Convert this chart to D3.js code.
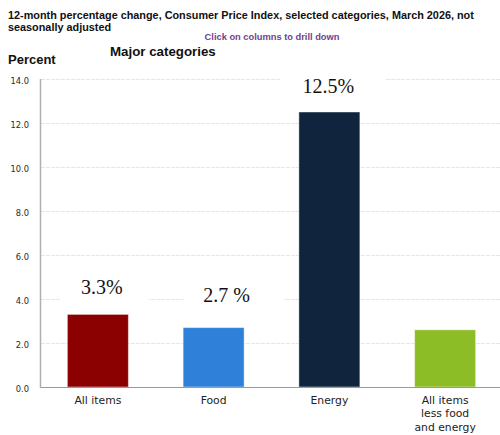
<!DOCTYPE html>
<html>
<head>
<meta charset="utf-8">
<script src="https://cdn.jsdelivr.net/npm/d3@7/dist/d3.min.js"></script>
<style>
  html, body { margin: 0; padding: 0; background: #fff; }
  svg { display: block; }
</style>
</head>
<body>
<div id="chart"></div>
<script>
// CPI 12-month percent change, major categories
const categories = ["All items", "Food", "Energy", "All items less food and energy"];
const categoryLines = [["All items"], ["Food"], ["Energy"], ["All items", "less food", "and energy"]];
const values = [3.3, 2.7, 12.5, 2.6];
const valueLabels = ["3.3%", "2.7 %", "12.5%", null];
const barColors = ["#8b0000", "#2f80d9", "#10253d", "#8cbc26"];
const yTicks = [0, 2, 4, 6, 8, 10, 12, 14];

const W = 500, H = 435;
const plotLeft = 41, plotRight = 500, plotTop = 79, plotBottom = 387;

const svg = d3.select("#chart").append("svg")
  .attr("width", W).attr("height", H);

const x = d3.scaleBand()
  .domain(categories)
  .range([40, 503])
  .paddingInner(0.473)
  .paddingOuter(0.2365);

const y = d3.scaleLinear().domain([0, 14]).range([plotBottom, plotTop]);

// Titles
const title = svg.append("text")
  .attr("font-family", "Liberation Sans, Arial, sans-serif")
  .attr("font-weight", "bold")
  .attr("font-size", 10.85)
  .attr("fill", "#111");
title.append("tspan").attr("x", 8).attr("y", 18.5)
  .text("12-month percentage change, Consumer Price Index, selected categories, March 2026, not");
title.append("tspan").attr("x", 8).attr("y", 30.5)
  .text("seasonally adjusted");

svg.append("text")
  .attr("x", 272).attr("y", 39.5)
  .attr("text-anchor", "middle")
  .attr("font-family", "Liberation Sans, Arial, sans-serif")
  .attr("font-weight", "bold")
  .attr("font-size", 9.3)
  .attr("fill", "#6e4290")
  .text("Click on columns to drill down");

svg.append("text")
  .attr("x", 110).attr("y", 55.5)
  .attr("font-family", "Liberation Sans, Arial, sans-serif")
  .attr("font-weight", "bold")
  .attr("font-size", 13.3)
  .attr("fill", "#111")
  .text("Major categories");

svg.append("text")
  .attr("x", 8).attr("y", 63.5)
  .attr("font-family", "Liberation Sans, Arial, sans-serif")
  .attr("font-weight", "bold")
  .attr("font-size", 13)
  .attr("fill", "#111")
  .text("Percent");

// Gridlines
svg.append("g")
  .selectAll("line")
  .data(yTicks.filter(d => d > 0))
  .join("line")
  .attr("x1", plotLeft).attr("x2", plotRight)
  .attr("y1", d => Math.round(y(d)) + 0.5)
  .attr("y2", d => Math.round(y(d)) + 0.5)
  .attr("stroke", "#e6e6e6")
  .attr("stroke-dasharray", "4,1");

// Y axis tick labels
const yAxis = d3.axisLeft(y)
  .tickValues(yTicks)
  .tickFormat(d3.format(".1f"))
  .tickSize(0)
  .tickPadding(12);
const gy = svg.append("g").attr("transform", `translate(${plotLeft},0)`).call(yAxis);
gy.select(".domain").remove();
gy.selectAll("text")
  .attr("font-family", "DejaVu Sans, Verdana, sans-serif")
  .attr("font-size", 8.3)
  .attr("fill", "#2a2a2a")
  .attr("dy", "0.55em");

// Value labels, each on a white box that hides the gridlines behind it
const labelNudge = [[4, 20], [13, 26], [-1, 19], [0, 20]];
const labelBox = [[-41, 47], [-43, 57], [-48, 57], [0, 0]];
const labelG = svg.append("g");
values.forEach((v, i) => {
  if (!valueLabels[i]) return;
  const cx = x(categories[i]) + x.bandwidth() / 2 + labelNudge[i][0];
  const by = y(v) - labelNudge[i][1];
  labelG.append("rect")
    .attr("x", cx + labelBox[i][0])
    .attr("width", labelBox[i][1] - labelBox[i][0])
    .attr("y", by - 19)
    .attr("height", 26)
    .attr("fill", "#fff");
  labelG.append("text")
    .attr("x", cx).attr("y", by)
    .attr("text-anchor", "middle")
    .attr("font-family", "Liberation Serif, Times New Roman, serif")
    .attr("font-size", 20)
    .attr("fill", "#111")
    .text(valueLabels[i]);
});

// Bars
svg.append("g")
  .selectAll("rect")
  .data(values)
  .join("rect")
  .attr("x", (d, i) => x(categories[i]))
  .attr("width", x.bandwidth())
  .attr("y", d => y(d))
  .attr("height", d => y(0) - y(d))
  .attr("fill", (d, i) => barColors[i])
  .attr("stroke", "rgba(255,255,255,0.45)")
  .attr("stroke-width", 1);

// Axis lines
svg.append("line")
  .attr("x1", plotLeft).attr("x2", plotRight)
  .attr("y1", plotBottom + 0.5).attr("y2", plotBottom + 0.5)
  .attr("stroke", "#9a9a9a").attr("stroke-width", 1);
svg.append("line")
  .attr("x1", plotLeft - 0.5).attr("x2", plotLeft - 0.5)
  .attr("y1", plotTop).attr("y2", plotBottom + 1)
  .attr("stroke", "#b0b0b0").attr("stroke-width", 1.5);

// Category labels
const xl = svg.append("g");
categories.forEach((c, i) => {
  const t = xl.append("text")
    .attr("text-anchor", "middle")
    .attr("font-family", "DejaVu Sans, Verdana, sans-serif")
    .attr("font-size", 10.8)
    .attr("fill", "#222");
  categoryLines[i].forEach((line, j) => {
    t.append("tspan")
      .attr("x", x(c) + x.bandwidth() / 2)
      .attr("y", 404 + j * 13.3)
      .text(line);
  });
});
</script>
</body>
</html>
